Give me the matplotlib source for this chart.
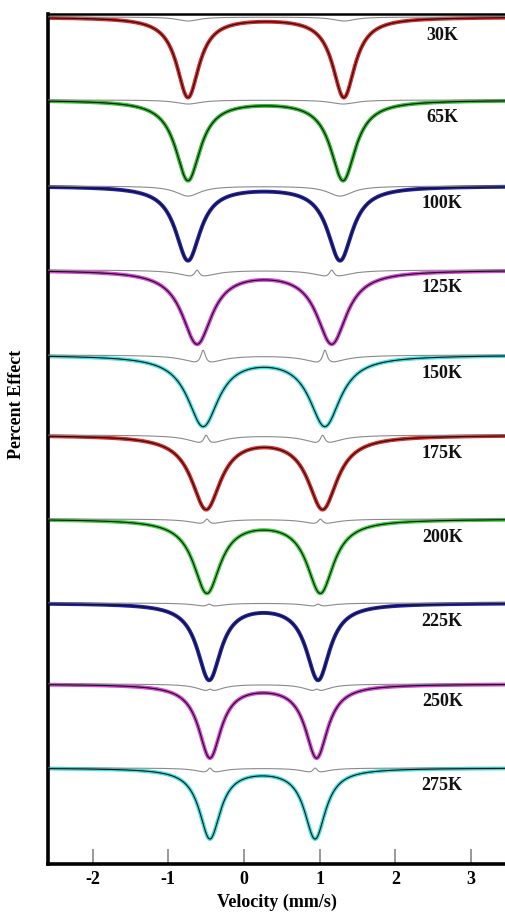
import numpy as np
import matplotlib
matplotlib.use("Agg")
import matplotlib.pyplot as plt

# ---- data ----
temps = ["30K", "65K", "100K", "125K", "150K", "175K", "200K", "225K", "250K", "275K"]
peak1 = [-0.74, -0.74, -0.74, -0.62, -0.54, -0.50, -0.49, -0.46, -0.45, -0.45]   # mm/s
peak2 = [1.32, 1.31, 1.27, 1.16, 1.07, 1.04, 1.01, 0.98, 0.96, 0.94]             # mm/s
fwhm = [0.36, 0.40, 0.40, 0.48, 0.50, 0.47, 0.43, 0.38, 0.36, 0.34]              # mm/s
baseline = [-0.3, -8.6, -17.2, -25.6, -34.1, -42.1, -50.5, -58.9, -67.0, -75.4]  # stacked offsets
depth = [8.0, 8.0, 7.4, 7.3, 7.0, 7.3, 7.3, 7.6, 7.3, 7.0]                      # percent effect
resid_dip = [0.4, 0.4, 1.0, 0.8, 1.0, 1.0, 0.6, 0.4, 0.8, 0.6]
resid_bump = [0.0, 0.0, 0.0, 0.8, 1.5, 1.0, 0.6, 0.3, 0.3, 0.6]
colors = ["#dd2a2a", "#2fbf2f", "#2222b0", "#d844d8", "#40e0e0",
          "#dd2a2a", "#3fd03f", "#2222b0", "#d844d8", "#40e0e0"]
xticks = [-2, -1, 0, 1, 2, 3]

plt.rcParams["font.family"] = ["Liberation Serif", "DejaVu Serif"]

fig = plt.figure(figsize=(5.05, 9.16), dpi=100)
ax = fig.add_axes([48 / 505, 52 / 916, 457 / 505, 850 / 916])

v = np.linspace(-2.6, 3.5, 1200)


def lor(x, c, w):
    return 1.0 / (1.0 + ((x - c) / (w / 2.0)) ** 2)


for i, t in enumerate(temps):
    b = baseline[i]
    shape = lor(v, peak1[i], fwhm[i]) + lor(v, peak2[i], fwhm[i])
    fit = b - depth[i] * shape
    resid = (b - resid_dip[i] * shape
             + resid_bump[i] * (lor(v, peak1[i], 0.08) + lor(v, peak2[i], 0.08)))
    ax.plot(v, fit, color=colors[i], lw=2.8, zorder=2)
    ax.plot(v, resid, color="#8a8a8a", lw=0.8, zorder=3)
    ax.plot(v, fit, color="#111111", lw=0.8, zorder=4)
    ax.text(2.62, b - 1.8, t, ha="center", va="center", fontsize=13,
            fontweight="bold", color="#111111")

ax.set_xlim(-2.59, 3.45)
ax.set_ylim(-85, 0)
ax.set_xticks(xticks)
ax.set_xticklabels([str(x) for x in xticks], fontsize=13, fontweight="bold")
ax.set_yticks([])
ax.tick_params(axis="x", direction="in", length=11, width=1.2, color="#888888", pad=5)

ax.spines["right"].set_visible(False)
ax.spines["left"].set_linewidth(2.6)
ax.spines["bottom"].set_linewidth(2.6)
ax.spines["top"].set_linewidth(1.8)

ax.set_xlabel("Velocity (mm/s)", fontsize=13, fontweight="bold", labelpad=4)
fig.text(17 / 505, 1 - 404 / 916, "Percent Effect", rotation=90, ha="center",
         va="center", fontsize=13, fontweight="bold")

fig.savefig("out.png", dpi=100)
